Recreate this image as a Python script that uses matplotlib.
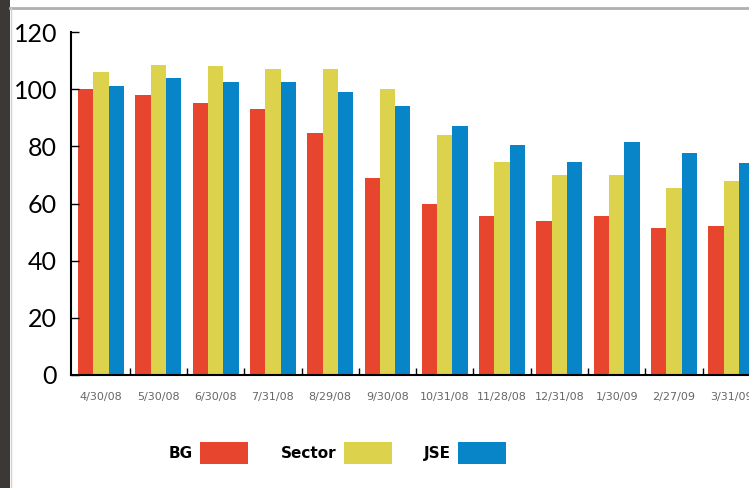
import matplotlib.pyplot as plt
import numpy as np
from matplotlib.patches import Rectangle
from matplotlib.lines import Line2D

dates = ["4/30/08", "5/30/08", "6/30/08", "7/31/08", "8/29/08", "9/30/08",
         "10/31/08", "11/28/08", "12/31/08", "1/30/09", "2/27/09", "3/31/09"]
bg = [100, 98, 95, 93, 84.5, 69, 60, 55.5, 54, 55.5, 51.5, 52]
sector = [106, 108.5, 108, 107, 107, 100, 84, 74.5, 70, 70, 65.5, 68]
jse = [101, 104, 102.5, 102.5, 99, 94, 87, 80.5, 74.5, 81.5, 77.5, 74]

red = "#e8452f"
yellow = "#dcd24c"
blue = "#0884c9"

fig = plt.figure(figsize=(7.49, 4.88), dpi=100)
fig.patch.set_facecolor("white")

# dark photo edge on the left and grey rules
fig.patches.append(Rectangle((0, 0), 10 / 749, 1, transform=fig.transFigure,
                             facecolor="#3b3835", edgecolor="none"))
fig.lines.append(Line2D([10 / 749, 1], [1 - 8 / 488, 1 - 8 / 488],
                        transform=fig.transFigure, color="#b0b0b0", lw=2))
fig.lines.append(Line2D([11 / 749, 11 / 749], [0, 1 - 8 / 488],
                        transform=fig.transFigure, color="#d0d0d0", lw=1))

ax = fig.add_axes([71 / 749, 1 - 375 / 488, 1 - 71 / 749, (375 - 32) / 488])

x = np.arange(len(dates))
w = 0.267
b1 = ax.bar(x - w, bg, w, color=red, label="BG")
b2 = ax.bar(x, sector, w, color=yellow, label="Sector")
b3 = ax.bar(x + w, jse, w, color=blue, label="JSE")

ax.set_ylim(0, 120)
ax.set_xlim(-0.524, 11.31)
ax.set_yticks([0, 20, 40, 60, 80, 100, 120])
ax.tick_params(axis="y", direction="in", length=6, width=1, pad=10,
               labelsize=18, labelcolor="black")
for lab in ax.get_yticklabels():
    lab.set_fontfamily(["Lato", "DejaVu Sans"])

ax.set_xticks(x)
ax.set_xticklabels(dates)
ax.set_xticks(x[:-1] + 0.5, minor=True)
ax.tick_params(axis="x", which="major", length=0, pad=12, labelsize=8,
               labelcolor="#666666")
ax.tick_params(axis="x", which="minor", direction="in", length=5, width=1)
for lab in ax.get_xticklabels():
    lab.set_fontfamily(["Liberation Sans Narrow", "DejaVu Sans"])

ax.spines["top"].set_visible(False)
ax.spines["right"].set_visible(False)
ax.spines["left"].set_linewidth(1.5)
ax.spines["bottom"].set_linewidth(1.5)

fig.legend(handles=[b1, b2, b3], labels=["BG", "Sector", "JSE"],
           loc="center left", bbox_to_anchor=(161 / 749, 1 - 453 / 488),
           ncol=3, frameon=False, markerfirst=False, borderpad=0,
           handlelength=3.14, handleheight=1.77, handletextpad=0.5,
           columnspacing=2.1,
           prop={"family": ["Liberation Sans Narrow", "DejaVu Sans"],
                 "weight": "bold", "size": 11})

fig.savefig("out.png", dpi=100)
